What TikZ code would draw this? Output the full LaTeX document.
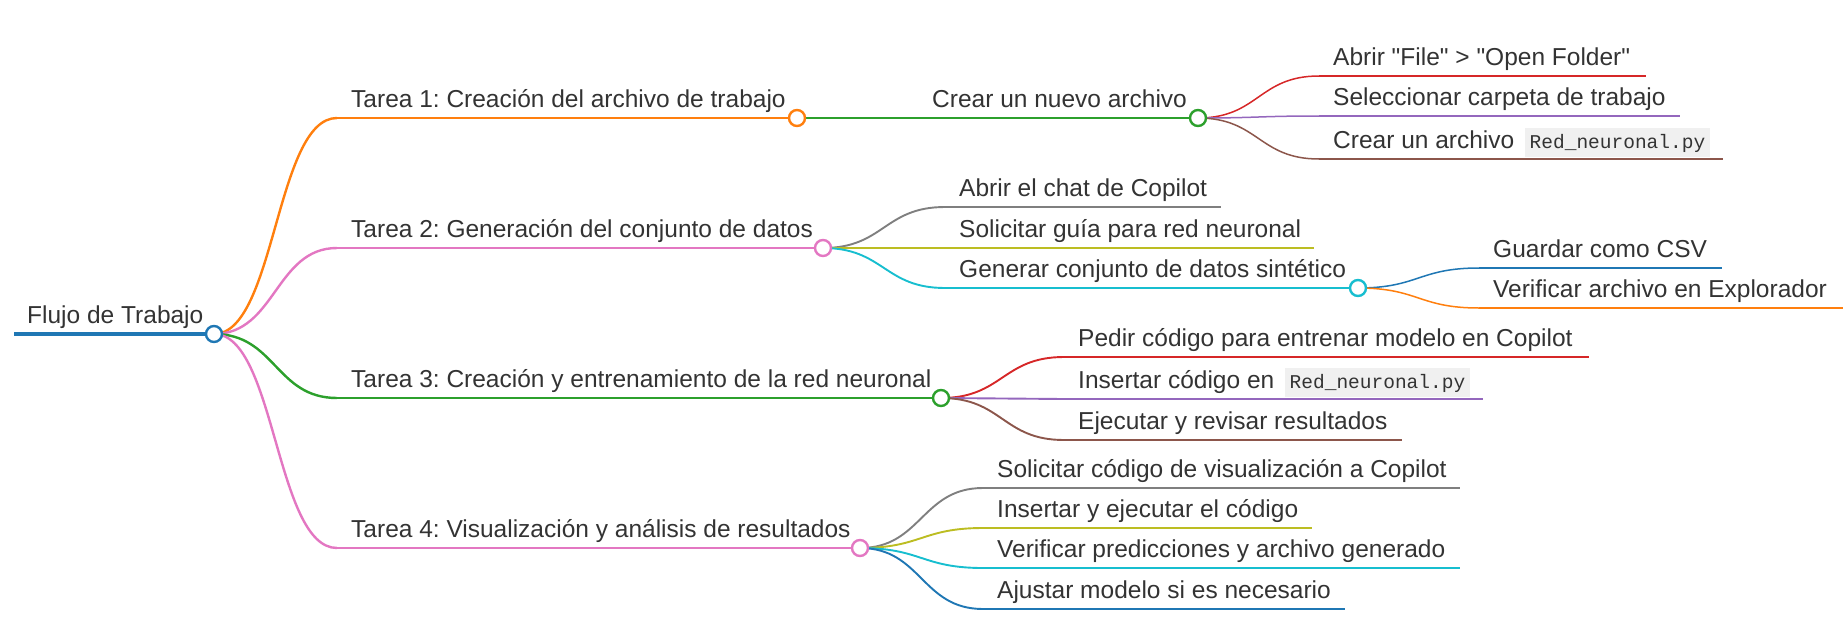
\documentclass[tikz,border=0pt]{standalone}
\usepackage{fontspec}
\setmainfont{Liberation Sans}
\setmonofont{Liberation Mono}
\usetikzlibrary{calc}
\definecolor{mblue}{HTML}{1F77B4}
\definecolor{morange}{HTML}{FF7F0E}
\definecolor{mgreen}{HTML}{2CA02C}
\definecolor{mred}{HTML}{D62728}
\definecolor{mpurple}{HTML}{9467BD}
\definecolor{mbrown}{HTML}{8C564B}
\definecolor{mpink}{HTML}{E377C2}
\definecolor{mgrey}{HTML}{7F7F7F}
\definecolor{molive}{HTML}{BCBD22}
\definecolor{mcyan}{HTML}{17BECF}
\definecolor{txt}{HTML}{333333}
\definecolor{codebg}{HTML}{F0F0F0}
\frenchspacing
\tikzset{
  lbl/.style={anchor=base west, inner sep=0pt, text=txt, font=\fontsize{24.5}{28}\selectfont},
  codebox/.style={anchor=base west, fill=codebg, inner xsep=5pt, inner ysep=4pt, text height=17pt, text depth=4.5pt, text=txt, font=\ttfamily\fontsize{19.5}{22}\selectfont},
  dot/.style={circle, fill=white, line width=2.4pt, minimum size=16pt, inner sep=0pt},
  lv0/.style={line width=3.2pt},
  lv1/.style={line width=2.4pt},
  lv2/.style={line width=1.9pt},
  lv3/.style={line width=1.5pt},
  link/.style={to path={let \p1=(\tikztostart), \p2=(\tikztotarget) in
    .. controls ({(\x1+\x2)/2},\y1) and ({(\x1+\x2)/2},\y2) .. (\tikztotarget)}}
}
\begin{document}
\begin{tikzpicture}[x=1pt, y=-1pt]
  \useasboundingbox (0,0) rectangle (1843,624);

  % start and end of every node line
  \coordinate (r0s) at (14,334);   \coordinate (r0e) at (214,334);
  \coordinate (t1s) at (337,118);  \coordinate (t1e) at (797,118);
  \coordinate (c1s) at (918,118);  \coordinate (c1e) at (1198,118);
  \coordinate (a1s) at (1319,76);  \coordinate (a1e) at (1646,76);
  \coordinate (a2s) at (1319,116); \coordinate (a2e) at (1680,116);
  \coordinate (a3s) at (1319,159); \coordinate (a3e) at (1723,159);
  \coordinate (t2s) at (337,248);  \coordinate (t2e) at (823,248);
  \coordinate (b1s) at (945,207);  \coordinate (b1e) at (1221,207);
  \coordinate (b2s) at (945,248);  \coordinate (b2e) at (1314,248);
  \coordinate (b3s) at (945,288);  \coordinate (b3e) at (1358,288);
  \coordinate (g1s) at (1479,268); \coordinate (g1e) at (1722,268);
  \coordinate (g2s) at (1479,308); \coordinate (g2e) at (1843,308);
  \coordinate (t3s) at (337,398);  \coordinate (t3e) at (941,398);
  \coordinate (p1s) at (1064,357); \coordinate (p1e) at (1589,357);
  \coordinate (p2s) at (1064,399); \coordinate (p2e) at (1483,399);
  \coordinate (p3s) at (1064,440); \coordinate (p3e) at (1402,440);
  \coordinate (t4s) at (337,548);  \coordinate (t4e) at (860,548);
  \coordinate (v1s) at (983,488);  \coordinate (v1e) at (1460,488);
  \coordinate (v2s) at (983,528);  \coordinate (v2e) at (1312,528);
  \coordinate (v3s) at (983,568);  \coordinate (v3e) at (1460,568);
  \coordinate (v4s) at (983,609);  \coordinate (v4e) at (1345,609);

  % labels
  \node[lbl] (root) at (27,323.5) {Flujo de Trabajo};
  \node[lbl] (tarea1) at (351,107.5) {Tarea 1: Creación del archivo de trabajo};
  \node[lbl] (nuevo) at (932,107.5) {Crear un nuevo archivo};
  \node[lbl] (abrir) at (1333,65.5) {Abrir \textquotedbl File\textquotedbl{} > \textquotedbl Open Folder\textquotedbl};
  \node[lbl] (selec) at (1333,105.5) {Seleccionar carpeta de trabajo};
  \node[lbl] (crear) at (1333,148.5) {Crear un archivo};
  \node[codebox] (code1) at ($(crear.base east)+(10,0)$) {Red\_neuronal.py};
  \node[lbl] (tarea2) at (351,237.5) {Tarea 2: Generación del conjunto de datos};
  \node[lbl] (chat) at (959,196.5) {Abrir el chat de Copilot};
  \node[lbl] (guia) at (959,237.5) {Solicitar guía para red neuronal};
  \node[lbl] (generar) at (959,277.5) {Generar conjunto de datos sintético};
  \node[lbl] (csv) at (1493,257.5) {Guardar como CSV};
  \node[lbl] (explor) at (1493,297.5) {Verificar archivo en Explorador};
  \node[lbl] (tarea3) at (351,387.5) {Tarea 3: Creación y entrenamiento de la red neuronal};
  \node[lbl] (pedir) at (1078,346.5) {Pedir código para entrenar modelo en Copilot};
  \node[lbl] (insert) at (1078,388.5) {Insertar código en};
  \node[codebox] (code2) at ($(insert.base east)+(10,0)$) {Red\_neuronal.py};
  \node[lbl] (ejec) at (1078,429.5) {Ejecutar y revisar resultados};
  \node[lbl] (tarea4) at (351,537.5) {Tarea 4: Visualización y análisis de resultados};
  \node[lbl] (visual) at (997,477.5) {Solicitar código de visualización a Copilot};
  \node[lbl] (insej) at (997,517.5) {Insertar y ejecutar el código};
  \node[lbl] (predic) at (997,557.5) {Verificar predicciones y archivo generado};
  \node[lbl] (ajustar) at (997,598.5) {Ajustar modelo si es necesario};

  % node lines
  \draw[mblue, lv0] (r0s) -- (r0e);
  \draw[morange, lv1] (t1s) -- (t1e);
  \draw[mpink, lv1] (t2s) -- (t2e);
  \draw[mgreen, lv1] (t3s) -- (t3e);
  \draw[mpink, lv1] (t4s) -- (t4e);
  \draw[mgreen, lv2] (c1s) -- (c1e);
  \draw[mred, lv3] (a1s) -- (a1e);
  \draw[mpurple, lv3] (a2s) -- (a2e);
  \draw[mbrown, lv3] (a3s) -- (a3e);
  \draw[mgrey, lv2] (b1s) -- (b1e);
  \draw[molive, lv2] (b2s) -- (b2e);
  \draw[mcyan, lv2] (b3s) -- (b3e);
  \draw[mblue, lv3] (g1s) -- (g1e);
  \draw[morange, lv3] (g2s) -- (g2e);
  \draw[mred, lv2] (p1s) -- (p1e);
  \draw[mpurple, lv2] (p2s) -- (p2e);
  \draw[mbrown, lv2] (p3s) -- (p3e);
  \draw[mgrey, lv2] (v1s) -- (v1e);
  \draw[molive, lv2] (v2s) -- (v2e);
  \draw[mcyan, lv2] (v3s) -- (v3e);
  \draw[mblue, lv2] (v4s) -- (v4e);

  % links
  \draw[morange, lv1, link] (r0e) to (t1s);
  \draw[mpink, lv1, link] (r0e) to (t2s);
  \draw[mgreen, lv1, link] (r0e) to (t3s);
  \draw[mpink, lv1, link] (r0e) to (t4s);
  \draw[mgreen, lv2, link] (t1e) to (c1s);
  \draw[mred, lv3, link] (c1e) to (a1s);
  \draw[mpurple, lv3, link] (c1e) to (a2s);
  \draw[mbrown, lv3, link] (c1e) to (a3s);
  \draw[mgrey, lv2, link] (t2e) to (b1s);
  \draw[molive, lv2, link] (t2e) to (b2s);
  \draw[mcyan, lv2, link] (t2e) to (b3s);
  \draw[mblue, lv3, link] (b3e) to (g1s);
  \draw[morange, lv3, link] (b3e) to (g2s);
  \draw[mred, lv2, link] (t3e) to (p1s);
  \draw[mpurple, lv2, link] (t3e) to (p2s);
  \draw[mbrown, lv2, link] (t3e) to (p3s);
  \draw[mgrey, lv2, link] (t4e) to (v1s);
  \draw[molive, lv2, link] (t4e) to (v2s);
  \draw[mcyan, lv2, link] (t4e) to (v3s);
  \draw[mblue, lv2, link] (t4e) to (v4s);

  % circles
  \node[dot, draw=mblue] (d0) at (r0e) {};
  \node[dot, draw=morange] (d1) at (t1e) {};
  \node[dot, draw=mgreen] (d2) at (c1e) {};
  \node[dot, draw=mpink] (d3) at (t2e) {};
  \node[dot, draw=mcyan] (d4) at (b3e) {};
  \node[dot, draw=mgreen] (d5) at (t3e) {};
  \node[dot, draw=mpink] (d6) at (t4e) {};
\end{tikzpicture}
\end{document}
